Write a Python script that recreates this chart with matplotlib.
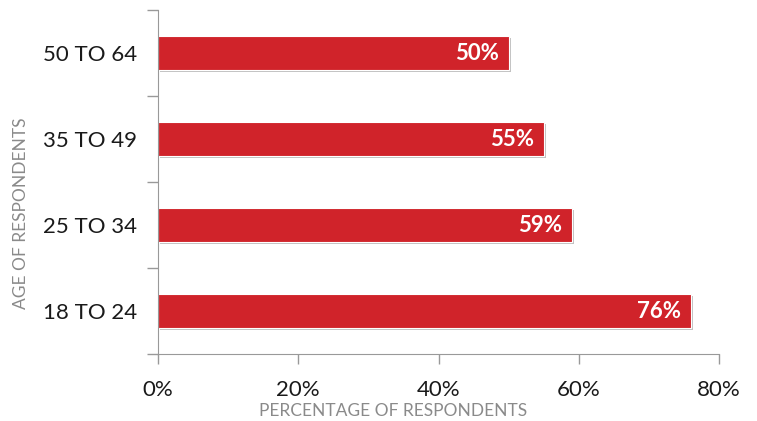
import matplotlib.pyplot as plt
import matplotlib.patheffects as pe

ages = ['18 TO 24', '25 TO 34', '35 TO 49', '50 TO 64']
shares = [76, 59, 55, 50]
xticks = [0, 20, 40, 60, 80]

plt.rcParams['font.family'] = ['Lato', 'DejaVu Sans']

fig = plt.figure(figsize=(7.57, 4.21), dpi=100)
ax = fig.add_axes([0.2087, 0.159, 0.7413, 0.817])

pos = range(len(ages))
bars = ax.barh(pos, shares, height=0.39, color='#d0232a', edgecolor='white', linewidth=0.8)
for b in bars:
    b.set_path_effects([pe.SimplePatchShadow(offset=(1.5, -1.5), shadow_rgbFace='#999999', alpha=0.6), pe.Normal()])

# value labels inside the bars
for y, v in zip(pos, shares):
    ax.text(v - 1.4, y, f'{v}%', ha='right', va='center', color='white',
            fontsize=16, fontweight='bold')

ax.set_xlim(0, 80)
ax.set_ylim(-0.5, 3.5)
ax.set_xticks(xticks)
ax.set_xticklabels([f'{t}%' for t in xticks], fontsize=16, color='#1a1a1a')
ax.set_yticks([-0.5, 0.5, 1.5, 2.5, 3.5])
ax.set_yticklabels([])
ax.set_yticks(list(pos), minor=True)
ax.set_yticklabels(ages, minor=True, fontsize=16, color='#1a1a1a')
ax.tick_params(axis='y', which='major', length=8, color='#999999', width=1)
ax.tick_params(axis='y', which='minor', length=0, pad=15)
ax.tick_params(axis='x', length=7, color='#999999', width=1, pad=12)

for s in ['top', 'right']:
    ax.spines[s].set_visible(False)
for s in ['left', 'bottom']:
    ax.spines[s].set_color('#999999')

fig.text(0.519, 0.024, 'PERCENTAGE OF RESPONDENTS', ha='center', va='center',
         fontsize=12.5, color='#8a8a8a')
fig.text(0.028, 0.494, 'AGE OF RESPONDENTS', ha='center', va='center',
         rotation=90, fontsize=12.5, color='#8a8a8a')

fig.savefig('out.png', dpi=100)
